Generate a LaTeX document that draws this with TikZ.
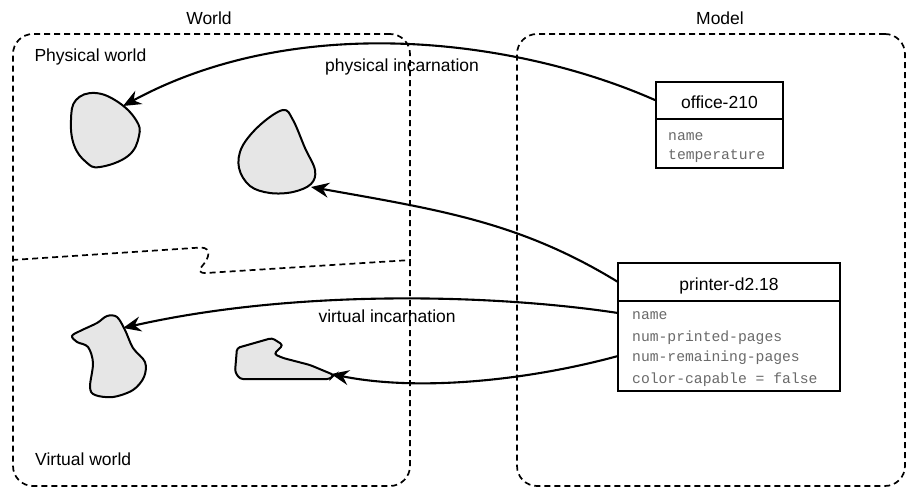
\documentclass[tikz,border=0pt]{standalone}
\usepackage{fontspec}
\setmainfont{Liberation Sans}
\setmonofont{Liberation Mono}
\usetikzlibrary{arrows.meta}
\definecolor{blobgray}{HTML}{E6E6E6}
\definecolor{attrgray}{HTML}{6A6A6A}
\begin{document}
\begin{tikzpicture}[x=1pt,y=-1pt,
  region/.style={draw, dash pattern=on 6pt off 4pt, line width=1.7pt, rounded corners=20pt, inner sep=0pt},
  divider/.style={draw, dash pattern=on 6pt off 4pt, line width=1.7pt},
  lbl/.style={font=\fontsize{17.5}{20}\selectfont, inner sep=0pt},
  hdr/.style={draw, line width=2pt, fill=white, font=\fontsize{17.5}{20}\selectfont, inner sep=0pt, outer sep=0pt, text height=17pt, text depth=0pt},
  body/.style={draw, line width=2pt, fill=white, inner sep=0pt, outer sep=0pt},
  attr/.style={font=\fontsize{14.7}{17}\selectfont\ttfamily, text=attrgray, inner sep=0pt, anchor=base west},
  blob/.style={draw, line width=2pt, fill=blobgray},
  arr/.style={line width=2.1pt, -{Stealth[length=18pt,width=15pt,inset=6pt]}}
]
\useasboundingbox (0,0) rectangle (906,487);

% regions
\node[region, minimum width=397pt, minimum height=452pt] (world) at (211.5,260) {};
\node[region, minimum width=388pt, minimum height=452pt] (model) at (711,260) {};
\node[lbl, anchor=base] (worldlbl) at (209,24.3) {World};
\node[lbl, anchor=base] (modellbl) at (720,25) {Model};
\node[lbl, anchor=base west] (physlbl) at (34.3,61.7) {Physical world};
\node[lbl, anchor=base west] (virtlbl) at (35,465) {Virtual world};
\node[lbl, anchor=base west] (physinc) at (325,71.7) {physical incarnation};
\node[lbl, anchor=base west] (virtinc) at (318.3,322.7) {virtual incarnation};

% divider between physical and virtual world
\draw[divider] (world.west) -- (201,247.5) .. controls (212,248) and (209,258) .. (203,265)
  .. controls (198,271) and (199,273) .. (206,273) -- (world.east);

% blobs
\draw[blob] plot[smooth cycle, tension=0.7] coordinates {(71,120) (76,100) (95,93) (118,102) (136,120) (139,136) (128,156) (100,167) (86,162) (74,145)};
\draw[blob] plot[smooth cycle, tension=0.6] coordinates {(283,110) (293,120) (305,148) (315,170) (311,184) (293,192) (270,193) (250,186) (239,168) (242,147) (260,125)};
\draw[blob] plot[smooth cycle, tension=0.55] coordinates {(72,336) (80,331) (97,323) (107,316) (117,317) (125,330) (133,348) (145,362) (144,377) (133,390) (113,397) (95,395) (90,387) (93,363) (88,347) (77,342)};
\draw[blob, rounded corners=3pt] (237,348) -- (272,338) -- (283,345) -- (274,354) -- (283,358) -- (310,365) -- (334,375) -- (330,379) -- (240,379) -- (235,372) -- cycle;

\coordinate (tA) at (123,106);
\coordinate (tB) at (311,187);
\coordinate (tC) at (123,328);
\coordinate (tD) at (331,374);

% class boxes
\node[hdr, minimum width=127pt, minimum height=37pt] (office) at (719.5,100.5) {office-210};
\node[body, minimum width=127pt, minimum height=49pt, anchor=north] (officebody) at (office.south) {};
\node[attr] (oname) at (668,140.5) {name};
\node[attr] (otemp) at (668,160) {temperature};

\node[hdr, minimum width=222pt, minimum height=37.5pt] (printer) at (729,282) {printer-d2.18};
\node[body, minimum width=222pt, minimum height=90pt, anchor=north] (printerbody) at (printer.south) {};
\node[attr] (pname) at (632,319.3) {name};
\node[attr] (pprinted) at (632,341) {num-printed-pages};
\node[attr] (premain) at (632,361.7) {num-remaining-pages};
\node[attr] (pcolor) at (632,383.3) {color-capable = false};

% connectors
\draw[arr] (office.west) .. controls (520,40) and (300,10) .. (tA);
\draw[arr] (printer.west) .. controls (520,222) and (440,210) .. (tB);
\draw[arr] (printerbody.west |- 0,313) .. controls (500,295) and (300,288) .. (tC);
\draw[arr] (printerbody.west |- 0,356) .. controls (530,380) and (420,392) .. (tD);
\end{tikzpicture}
\end{document}
